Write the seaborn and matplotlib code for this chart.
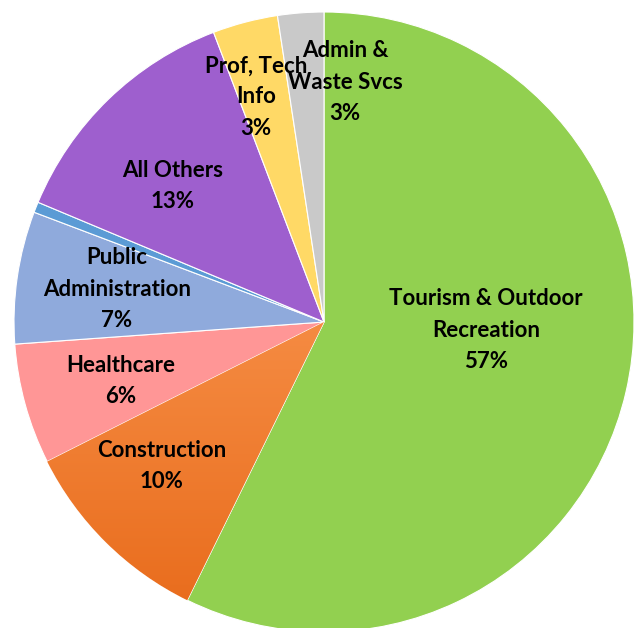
import numpy as np
import matplotlib
matplotlib.use("Agg")
import matplotlib.pyplot as plt
import seaborn as sns
from matplotlib.colors import LinearSegmentedColormap

# ---- data ----
categories = ["Tourism & Outdoor Recreation", "Construction", "Healthcare",
              "Public Administration", "Other (small)", "All Others",
              "Prof, Tech Info", "Admin & Waste Svcs"]
shares = [57.3, 10.3, 6.3, 6.9, 0.55, 12.9, 3.4, 2.4]
label_texts = ["Tourism & Outdoor\nRecreation\n57%", "Construction\n10%",
               "Healthcare\n6%", "Public\nAdministration\n7%", "",
               "All Others\n13%", "Prof, Tech\nInfo\n3%", "Admin &\nWaste Svcs\n3%"]
colors = ["#92D050", "#F07C2E", "#FF9696", "#8FAADC", "#5B9BD5",
          "#9E5FCE", "#FFD966", "#C9C9C9"]

# ---- layout (label positions in unit-radius coordinates) ----
label_pos = [(0.523, -0.026), (-0.523, -0.465), (-0.655, -0.19), (-0.668, 0.106),
             None, (-0.487, 0.439), (-0.219, 0.726), (0.068, 0.774)]

sns.set_theme(style="white")
plt.rcParams['font.family'] = ['Lato', 'DejaVu Sans']

W, H = 637, 628
fig = plt.figure(figsize=(W / 100, H / 100), dpi=100)
R = 310
cx, cy = 324, H - 322
ax = fig.add_axes([(cx - R) / W, (cy - R) / H, 2 * R / W, 2 * R / H])
ax.set_xlim(-1, 1)
ax.set_ylim(-1, 1)
ax.axis("off")

wedges, _ = ax.pie(shares, colors=colors, startangle=90, counterclock=False,
                   radius=1, wedgeprops=dict(edgecolor="white", linewidth=0.8))
for w in wedges:
    w.set_clip_on(False)

# vertical gradient on construction wedge (lighter top, darker bottom)
cmap = LinearSegmentedColormap.from_list("g", ["#E86A1A", "#F58B42"])
grad = np.linspace(0, 1, 256).reshape(-1, 1)
im = ax.imshow(grad, cmap=cmap, extent=(-1, 0, -1, 0), aspect="auto",
               origin="lower", zorder=wedges[1].get_zorder() + 0.1)
im.set_clip_path(wedges[1])
ax.set_xlim(-1, 1)
ax.set_ylim(-1, 1)

for txt, pos in zip(label_texts, label_pos):
    if pos is None or not txt:
        continue
    ax.text(pos[0], pos[1], txt, ha="center", va="center", fontsize=16,
            fontweight="bold", color="black", linespacing=1.6, zorder=10)

fig.savefig("out.png", dpi=100, facecolor="white")
